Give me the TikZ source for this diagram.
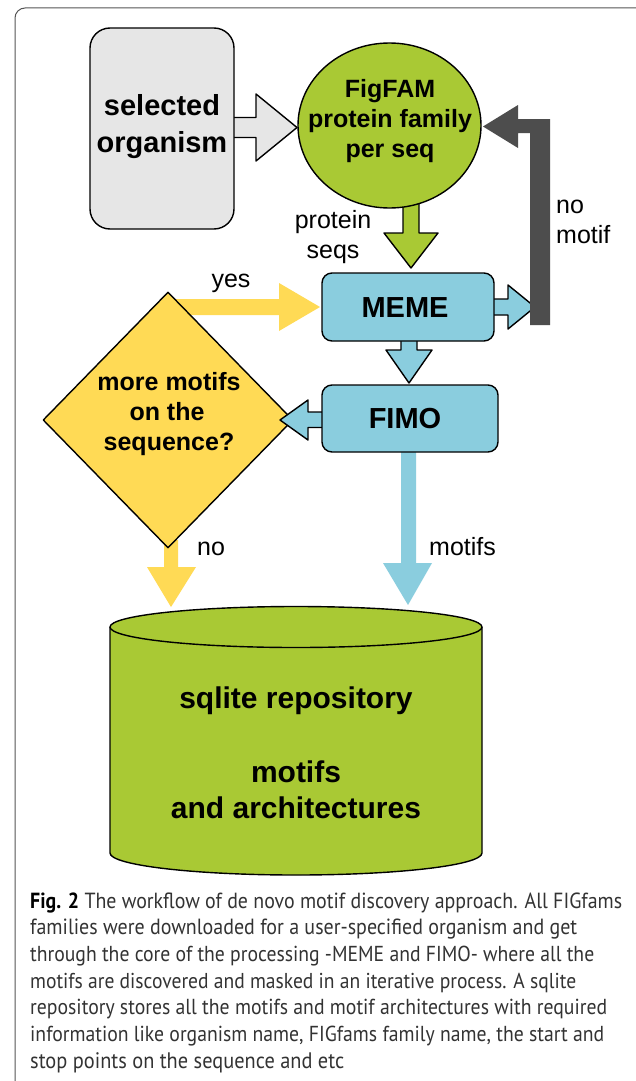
\documentclass[tikz,border=0pt]{standalone}
\usepackage{graphicx}
\usepackage{fontspec}
\setmainfont{Liberation Sans}
\newfontfamily\capfont{PT Sans}
\usetikzlibrary{shapes.geometric}
\definecolor{fgreen}{HTML}{A9C934}
\definecolor{fblue}{HTML}{8ACDDE}
\definecolor{fyellow}{HTML}{FFDA55}
\definecolor{flgrey}{HTML}{E6E6E6}
\definecolor{fdgrey}{HTML}{4D4D4D}
\definecolor{framecol}{HTML}{555555}
\definecolor{capcol}{HTML}{333333}
\newcommand{\capline}[2]{\scalebox{1}[1.1]{\resizebox{#1pt}{!}{\capfont\fontsize{20}{26}\selectfont #2}}}
\begin{document}
\begin{tikzpicture}[x=1pt,y=-1pt,
  outl/.style={draw=black,line width=1.4pt,line join=round},
  blab/.style={inner sep=0pt,anchor=base,font=\bfseries\fontsize{25}{30}\selectfont},
  rlab/.style={inner sep=0pt,anchor=base,font=\fontsize{25}{30}\selectfont},
  caplab/.style={inner sep=0pt,anchor=base west,text=capcol}]
\useasboundingbox (0,0) rectangle (636,1081);
\fill[white] (0,0) rectangle (636,1081);
\draw[framecol,line width=1pt,rounded corners=10pt] (15,1100) -- (15,8) -- (660,8);

% connectors (block arrows) drawn first
\filldraw[fill=flgrey,outl] (232,117.5) -- (256,117.5) -- (256,94) -- (297,127.5) -- (256,161) -- (256,137.5) -- (232,137.5);
\filldraw[fill=fgreen,outl] (403,198) -- (403,233) -- (384,233) -- (411,268) -- (438,233) -- (419,233) -- (419,198);
\fill[fyellow] (175,299) -- (279,299) -- (279,283) -- (320,307) -- (279,331) -- (279,315) -- (175,315) -- cycle;
\filldraw[fill=fblue,outl] (492,299) -- (508,299) -- (508,285) -- (535,307) -- (508,329) -- (508,315) -- (492,315);
\fill[fdgrey] (530,325) -- (550,325) -- (550,119) -- (518,119) -- (518,105) -- (483,126.5) -- (518,148) -- (518,133) -- (530,133) -- cycle;
\filldraw[fill=fblue,outl] (401,339) -- (401,350) -- (386,350) -- (409,383) -- (432,350) -- (417,350) -- (417,339);
\fill[fyellow] (164,540) -- (164,567) -- (147,567) -- (171,607) -- (196,567) -- (178,567) -- (178,540) -- cycle;
\fill[fblue] (401,450) -- (401,563) -- (383,563) -- (408,605) -- (432,563) -- (416,563) -- (416,450) -- cycle;

% shapes
\node[outl,fill=flgrey,rounded corners=20pt,minimum width=144pt,minimum height=201pt] (sel) at (162,128.5) {};
\node[outl,fill=fgreen,ellipse,minimum width=183pt,minimum height=165pt,inner sep=0pt] (fam) at (389.5,125.5) {};
\node[outl,fill=fblue,rounded corners=10pt,minimum width=172pt,minimum height=68pt] (meme) at (408,307) {};
\node[outl,fill=fyellow,diamond,minimum width=250pt,minimum height=256pt,inner sep=0pt] (dec) at (168,420) {};
\filldraw[fill=fblue,outl] (324,412) -- (308,412) -- (308,400) -- (280,420) -- (308,440) -- (308,427.5) -- (324,427.5);
\node[outl,fill=fblue,rounded corners=10pt,minimum width=176pt,minimum height=67pt] (fimo) at (410,418.5) {};

% cylinder
\coordinate (db) at (296,740);
\filldraw[fill=fgreen,outl] (110,627) -- (110,853) arc[start angle=180,end angle=0,x radius=186,y radius=22] -- (482,627) arc[start angle=360,end angle=180,x radius=186,y radius=20.5] -- cycle;
\draw[outl] (110,627) arc[start angle=180,end angle=0,x radius=186,y radius=20.5];

% texts
\node[blab,font=\bfseries\fontsize{29}{35}\selectfont] (t1) at (162,115) {selected};
\node[blab,font=\bfseries\fontsize{29}{35}\selectfont] (t2) at (162,152) {organism};
\node[blab] (t3) at (390,97) {FigFAM};
\node[blab] (t4) at (390,127) {protein family};
\node[blab] (t5) at (390,157) {per seq};
\node[rlab] (l1) at (333,228) {protein};
\node[rlab] (l2) at (333,258) {seqs};
\node[rlab,anchor=base west] (l3) at (556,213) {no};
\node[rlab,anchor=base west] (l4) at (556,243) {motif};
\node[rlab] (l5) at (231,287) {yes};
\node[blab,font=\bfseries\fontsize{29}{35}\selectfont] (t6) at (405,317) {MEME};
\node[blab,font=\bfseries\fontsize{29}{35}\selectfont] (t7) at (405,428) {FIMO};
\node[blab] (t8) at (169,390) {more motifs};
\node[blab] (t9) at (167,420) {on the};
\node[blab] (t10) at (169,450) {sequence?};
\node[rlab,anchor=base west] (l6) at (197,555) {no};
\node[rlab,anchor=base west] (l7) at (429,555) {motifs};
\node[blab,font=\bfseries\fontsize{30}{36}\selectfont] (t11) at (296,708) {sqlite repository};
\node[blab,font=\bfseries\fontsize{30}{36}\selectfont] (t12) at (296,782) {motifs};
\node[blab,font=\bfseries\fontsize{30}{36}\selectfont] (t13) at (296,818) {and architectures};

% caption
\node[caplab] (c1) at (30,908) {\capline{592}{{\color{black}\textbf{Fig. 2}} The workflow of de novo motif discovery approach. All FIGfams}};
\node[caplab] (c2) at (30,934.7) {\capline{547}{families were downloaded for a user-specified organism and get}};
\node[caplab] (c3) at (30,961.3) {\capline{564}{through the core of the processing -MEME and FIMO- where all the}};
\node[caplab] (c4) at (30,988) {\capline{546}{motifs are discovered and masked in an iterative process. A sqlite}};
\node[caplab] (c5) at (30,1014.7) {\capline{577}{repository stores all the motifs and motif architectures with required}};
\node[caplab] (c6) at (30,1041.3) {\capline{574}{information like organism name, FIGfams family name, the start and}};
\node[caplab] (c7) at (30,1068) {\capline{314}{stop points on the sequence and etc}};
\end{tikzpicture}
\end{document}
